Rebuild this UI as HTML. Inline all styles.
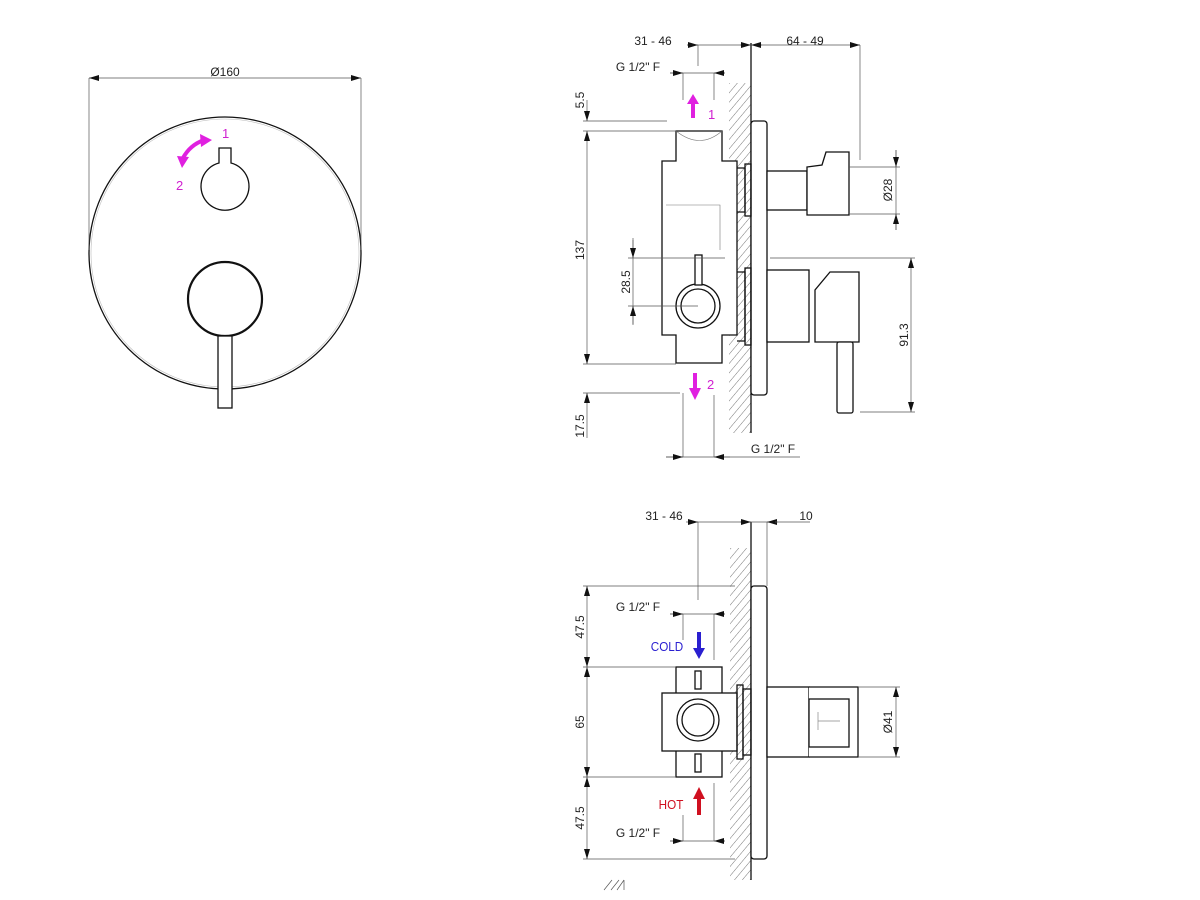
<!DOCTYPE html>
<html><head><meta charset="utf-8"><style>
html,body{margin:0;padding:0;background:#fff}
svg{display:block}
text{font-family:"Liberation Sans",sans-serif;font-size:12px;fill:#222}
</style></head><body>
<svg width="1200" height="900" viewBox="0 0 1200 900" xmlns="http://www.w3.org/2000/svg">
<defs>
<pattern id="h" patternUnits="userSpaceOnUse" width="6" height="6" patternTransform="rotate(40)">
<line x1="0" y1="0" x2="0" y2="6" stroke="#666" stroke-width="0.9"/>
</pattern>
<marker id="a" viewBox="0 0 10 6" refX="10" refY="3" markerWidth="10" markerHeight="6" orient="auto-start-reverse" markerUnits="userSpaceOnUse">
<path d="M0,0 L10,3 L0,6z" fill="#111"/>
</marker>
</defs>
<g fill="none" stroke="#111" stroke-width="1.3">
<!-- LEFT VIEW -->
<circle cx="225" cy="253" r="136"/>
<circle cx="225" cy="253" r="134" stroke="#bbb" stroke-width="0.6"/>
<path d="M219,148 L219,163 A24,24 0 1 0 231,163 L231,148 Z" fill="#fff"/>
<circle cx="225" cy="299" r="37" stroke-width="2.2"/>
<rect x="218" y="336" width="14" height="72" fill="#fff"/>
</g>
<g stroke="#555" stroke-width="0.7" fill="none">
<line x1="89" y1="78" x2="89" y2="250"/><line x1="361" y1="78" x2="361" y2="250"/>
<line x1="89" y1="78" x2="361" y2="78" marker-start="url(#a)" marker-end="url(#a)"/>
</g>
<text x="225" y="76" text-anchor="middle">Ø160</text>
<path d="M204,140 Q190,145 183,158" stroke="#e020e0" stroke-width="4" fill="none"/>
<path d="M200,134 L212,140 L201,147z M177,156 L182,168 L189,157z" fill="#e020e0"/>
<text x="222" y="138" style="fill:#d020d0;font-size:13px">1</text>
<text x="176" y="190" style="fill:#d020d0;font-size:13px">2</text>

<!-- TOP RIGHT -->
<rect x="729" y="83" width="22" height="350" fill="url(#h)"/>
<g fill="none" stroke="#111" stroke-width="1.3">
<line x1="751" y1="43" x2="751" y2="433"/>
<rect x="751" y="121" width="16" height="274" rx="3" fill="#fff"/>
<path d="M676,131 H722 V161 H737 V335 H722 V363 H676 V335 H662 V161 H676 Z" fill="#fff"/>
<path d="M737,168 H745 V212 H737" /><rect x="745" y="164" width="6" height="52"/>
<path d="M737,272 H745 V341 H737"/><rect x="745" y="268" width="6" height="77"/>
<rect x="767" y="171" width="40" height="39" fill="#fff"/>
<path d="M807,167 L822,165 L826,152 L849,152 L849,215 L807,215 Z" fill="#fff"/>
<rect x="767" y="270" width="42" height="72" fill="#fff"/>
<path d="M815,342 V290 L830,272 H859 V342 Z" fill="#fff"/>
<rect x="837" y="342" width="16" height="71" rx="2" fill="#fff"/>
<circle cx="698" cy="306" r="22"/><circle cx="698" cy="306" r="17"/>
<rect x="695" y="255" width="7" height="30" fill="#fff"/>
</g>
<g stroke="#777" stroke-width="0.6" fill="none">
<path d="M676,131 Q700,150 722,131" />
<path d="M666,205 H720 V250"/>
</g>
<g stroke="#555" stroke-width="0.7" fill="none">
<line x1="687" y1="45" x2="860" y2="45"/>
<line x1="687" y1="45" x2="698" y2="45" marker-end="url(#a)"/>
<line x1="740" y1="45" x2="751" y2="45" marker-end="url(#a)"/>
<line x1="762" y1="45" x2="751" y2="45" marker-end="url(#a)"/>
<line x1="850" y1="45" x2="860" y2="45" marker-end="url(#a)"/>
<line x1="698" y1="45" x2="698" y2="66"/><line x1="860" y1="45" x2="860" y2="160"/>
<line x1="670" y1="73" x2="725" y2="73"/>
<line x1="670" y1="73" x2="683" y2="73" marker-end="url(#a)"/>
<line x1="725" y1="73" x2="714" y2="73" marker-end="url(#a)"/>
<line x1="683" y1="73" x2="683" y2="100"/><line x1="714" y1="73" x2="714" y2="100"/>
<line x1="583" y1="121" x2="667" y2="121"/><line x1="583" y1="131" x2="676" y2="131"/>
<line x1="583" y1="364" x2="676" y2="364"/><line x1="583" y1="393" x2="680" y2="393"/>
<line x1="587" y1="100" x2="587" y2="121" marker-end="url(#a)"/>
<line x1="587" y1="131" x2="587" y2="364" marker-start="url(#a)" marker-end="url(#a)"/>
<line x1="587" y1="393" x2="587" y2="438" marker-start="url(#a)"/>
<line x1="633" y1="238" x2="633" y2="325"/>
<line x1="633" y1="240" x2="633" y2="258" marker-end="url(#a)"/>
<line x1="633" y1="324" x2="633" y2="306" marker-end="url(#a)"/>
<line x1="628" y1="258" x2="725" y2="258"/><line x1="770" y1="258" x2="915" y2="258"/>
<line x1="628" y1="306" x2="698" y2="306"/>
<line x1="849" y1="167" x2="900" y2="167"/><line x1="849" y1="214" x2="900" y2="214"/>
<line x1="896" y1="150" x2="896" y2="230"/>
<line x1="896" y1="150" x2="896" y2="167" marker-end="url(#a)"/>
<line x1="896" y1="230" x2="896" y2="214" marker-end="url(#a)"/>
<line x1="911" y1="258" x2="911" y2="412" marker-start="url(#a)" marker-end="url(#a)"/>
<line x1="860" y1="412" x2="915" y2="412"/>
<line x1="683" y1="393" x2="683" y2="457"/><line x1="714" y1="395" x2="714" y2="457"/>
<line x1="666" y1="457" x2="800" y2="457"/>
<line x1="666" y1="457" x2="683" y2="457" marker-end="url(#a)"/>
<line x1="730" y1="457" x2="714" y2="457" marker-end="url(#a)"/>
</g>
<text x="653" y="45" text-anchor="middle">31 - 46</text>
<text x="805" y="45" text-anchor="middle">64 - 49</text>
<text x="638" y="71" text-anchor="middle">G 1/2" F</text>
<text x="773" y="453" text-anchor="middle">G 1/2" F</text>
<text transform="translate(584,100) rotate(-90)" text-anchor="middle">5.5</text>
<text transform="translate(584,250) rotate(-90)" text-anchor="middle">137</text>
<text transform="translate(584,426) rotate(-90)" text-anchor="middle">17.5</text>
<text transform="translate(630,282) rotate(-90)" text-anchor="middle">28.5</text>
<text transform="translate(892,190) rotate(-90)" text-anchor="middle">Ø28</text>
<text transform="translate(908,335) rotate(-90)" text-anchor="middle">91.3</text>
<path d="M691,118 V104 H687 L693,94 L699,104 H695 V118Z" fill="#e020e0"/>
<path d="M693,373 V388 H689 L695,400 L701,388 H697 V373Z" fill="#e020e0"/>
<text x="708" y="119" style="fill:#d020d0;font-size:13px">1</text>
<text x="707" y="389" style="fill:#d020d0;font-size:13px">2</text>

<!-- BOTTOM RIGHT -->
<rect x="730" y="548" width="21" height="332" fill="url(#h)"/>
<g fill="none" stroke="#111" stroke-width="1.3">
<line x1="751" y1="522" x2="751" y2="880"/>
<rect x="751" y="586" width="16" height="273" rx="3" fill="#fff"/>
<rect x="676" y="667" width="46" height="110" fill="#fff"/>
<rect x="662" y="693" width="75" height="58" fill="#fff"/>
<rect x="737" y="685" width="6" height="74"/><rect x="743" y="689" width="8" height="66"/>
<rect x="767" y="687" width="42" height="70" fill="#fff"/>
<path d="M809,687 H858 V757 H809" fill="#fff"/>
<rect x="809" y="699" width="40" height="48" fill="#fff"/>
<circle cx="698" cy="720" r="21"/><circle cx="698" cy="720" r="16"/>
<rect x="695" y="671" width="6" height="18"/><rect x="695" y="754" width="6" height="18"/>
</g>
<path d="M818,712 V730 M818,721 H840" stroke="#888" stroke-width="0.7" fill="none"/>
<g stroke="#555" stroke-width="0.7" fill="none">
<line x1="695" y1="522" x2="775" y2="522"/>
<line x1="686" y1="522" x2="698" y2="522" marker-end="url(#a)"/>
<line x1="740" y1="522" x2="751" y2="522" marker-end="url(#a)"/>
<line x1="778" y1="522" x2="767" y2="522" marker-end="url(#a)"/>
<line x1="775" y1="522" x2="810" y2="522"/>
<line x1="698" y1="522" x2="698" y2="600"/><line x1="767" y1="522" x2="767" y2="586"/>
<line x1="583" y1="586" x2="735" y2="586"/><line x1="583" y1="667" x2="676" y2="667"/>
<line x1="583" y1="777" x2="676" y2="777"/><line x1="583" y1="859" x2="735" y2="859"/>
<line x1="587" y1="586" x2="587" y2="667" marker-start="url(#a)" marker-end="url(#a)"/>
<line x1="587" y1="667" x2="587" y2="777" marker-start="url(#a)" marker-end="url(#a)"/>
<line x1="587" y1="777" x2="587" y2="859" marker-start="url(#a)" marker-end="url(#a)"/>
<line x1="670" y1="614" x2="725" y2="614"/>
<line x1="670" y1="614" x2="683" y2="614" marker-end="url(#a)"/>
<line x1="725" y1="614" x2="714" y2="614" marker-end="url(#a)"/>
<line x1="683" y1="614" x2="683" y2="640"/><line x1="714" y1="614" x2="714" y2="660"/>
<line x1="670" y1="841" x2="725" y2="841"/>
<line x1="670" y1="841" x2="683" y2="841" marker-end="url(#a)"/>
<line x1="725" y1="841" x2="714" y2="841" marker-end="url(#a)"/>
<line x1="683" y1="815" x2="683" y2="841"/><line x1="714" y1="783" x2="714" y2="841"/>
<line x1="858" y1="687" x2="900" y2="687"/><line x1="858" y1="757" x2="900" y2="757"/>
<line x1="896" y1="687" x2="896" y2="757" marker-start="url(#a)" marker-end="url(#a)"/>
<path d="M604,890 L612,880 M611,890 L619,880 M617,890 L624,880 M624,880 V890"/>
</g>
<text x="664" y="520" text-anchor="middle">31 - 46</text>
<text x="806" y="520" text-anchor="middle">10</text>
<text x="638" y="611" text-anchor="middle">G 1/2" F</text>
<text x="638" y="837" text-anchor="middle">G 1/2" F</text>
<text transform="translate(584,627) rotate(-90)" text-anchor="middle">47.5</text>
<text transform="translate(584,722) rotate(-90)" text-anchor="middle">65</text>
<text transform="translate(584,818) rotate(-90)" text-anchor="middle">47.5</text>
<text transform="translate(892,722) rotate(-90)" text-anchor="middle">Ø41</text>
<text x="667" y="651" text-anchor="middle" style="fill:#2a1fd0;font-size:13px" transform="translate(667,0) scale(0.9,1) translate(-667,0)">COLD</text>
<text x="671" y="809" text-anchor="middle" style="fill:#d01020;font-size:13px" transform="translate(671,0) scale(0.9,1) translate(-671,0)">HOT</text>
<path d="M697,632 V648 H693 L699,659 L705,648 H701 V632Z" fill="#2a1fd0"/>
<path d="M697,815 V799 H693 L699,787 L705,799 H701 V815Z" fill="#d01020"/>
</svg>
</body></html>
